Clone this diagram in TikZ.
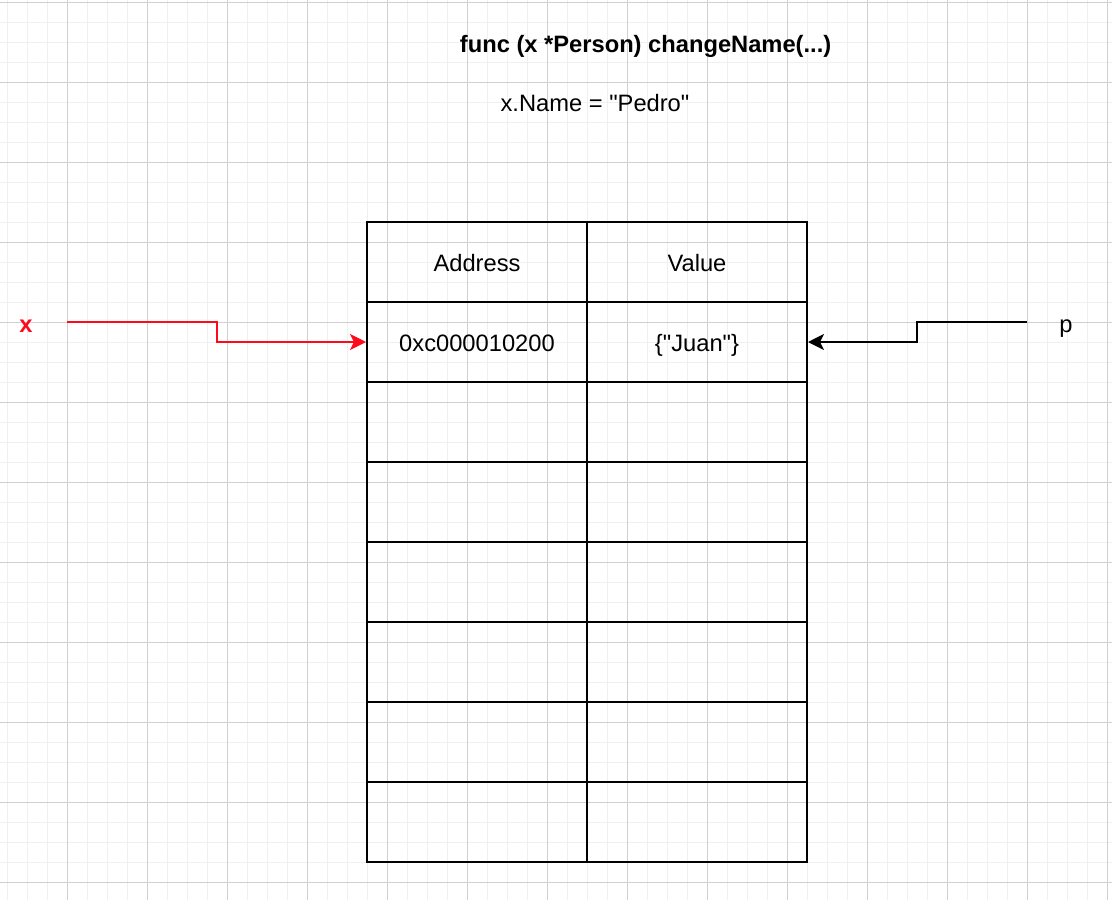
\documentclass[tikz,border=0pt]{standalone}
\usepackage{fontspec}
\setmainfont{Liberation Sans}
\usetikzlibrary{arrows.meta}
\definecolor{gridminor}{HTML}{F0F0F0}
\definecolor{gridmajor}{HTML}{D0D0D0}
\definecolor{ptrred}{HTML}{FF0A1A}
\newcommand{\qd}{\textquotedbl}
\begin{document}
\begin{tikzpicture}[x=1pt,y=-1pt,
  every node/.style={font=\fontsize{23.7}{28}\selectfont},
  cell/.style={draw=black, line width=2pt, minimum width=220pt, minimum height=80pt,
    inner sep=0pt, text height=19.4pt, text depth=0pt},
  lbl/.style={anchor=base, inner sep=0pt},
  ptr/.style={line width=1.7pt, -{Stealth[length=16pt,width=16pt,inset=4pt]}},
]
\useasboundingbox (0,0) rectangle (1112,900);
\fill[white] (0,0) rectangle (1112,900);
% grid
\foreach \gx in {7,27,...,1107} \draw[gridminor, line width=1pt] (\gx,0) -- (\gx,900);
\foreach \gy in {2,22,...,882} \draw[gridminor, line width=1pt] (0,\gy) -- (1112,\gy);
\foreach \gx in {67,147,...,1107} \draw[gridmajor, line width=1pt] (\gx,0) -- (\gx,900);
\foreach \gy in {2,82,...,882} \draw[gridmajor, line width=1pt] (0,\gy) -- (1112,\gy);
% titles
\node[lbl, font=\fontsize{23.7}{28}\selectfont\bfseries] (title) at (645.6,52) {func (x *Person) changeName(...)};
\node[lbl] (assign) at (595,111.7) {x.Name = \qd Pedro\qd};
% table
\node[cell] (a0) at (477,262) {Address};
\node[cell] (v0) at (697,262) {Value};
\node[cell] (a1) at (477,342) {0xc000010200};
\node[cell] (v1) at (697,342) {\{\qd Juan\qd\}};
\foreach \r in {2,...,7} {
  \node[cell] (a\r) at (477,262+80*\r) {};
  \node[cell] (v\r) at (697,262+80*\r) {};
}
% pointer labels
\node[lbl, text=ptrred, font=\fontsize{23.7}{28}\selectfont\bfseries] (xl) at (26,332) {x};
\node[lbl] (pl) at (1066,332) {p};
\coordinate (xs) at (67,322);
\coordinate (ps) at (1027,322);
\draw[ptr, draw=ptrred] (xs) -- (217,322) -- (217,342) -- (a1.west);
\draw[ptr, draw=black] (ps) -- (917,322) -- (917,342) -- (v1.east);
\end{tikzpicture}
\end{document}
